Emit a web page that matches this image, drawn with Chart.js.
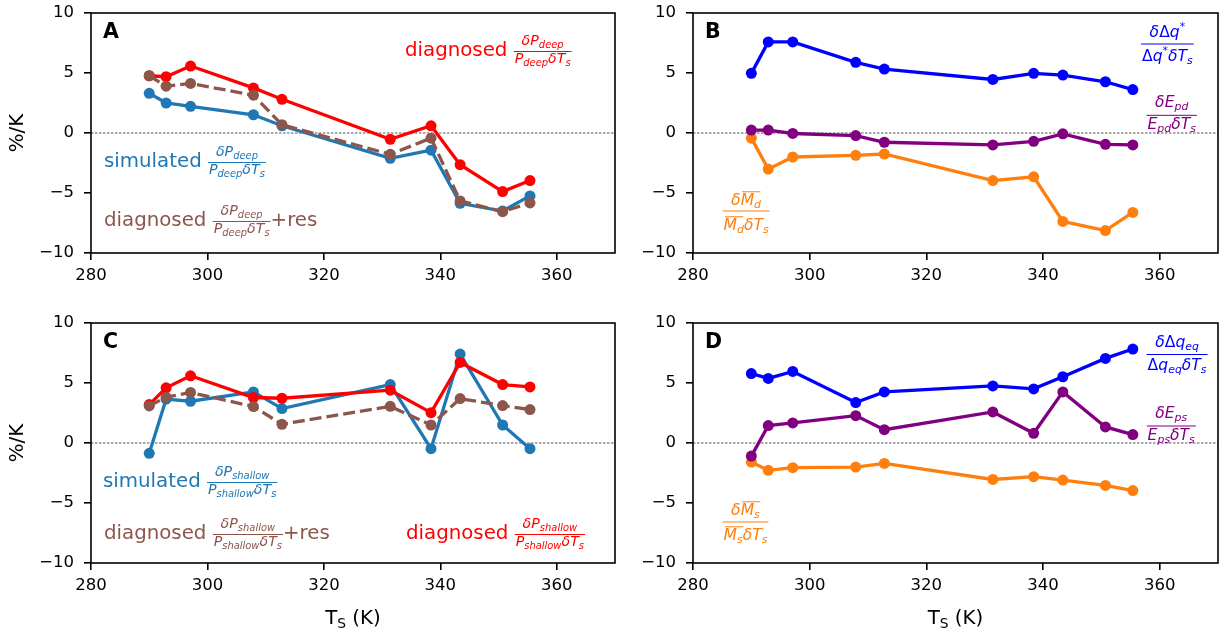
<!DOCTYPE html>
<html lang="en">
<head>
<meta charset="UTF-8">
<title>Deep and shallow precipitation sensitivity</title>
<script src="https://cdn.jsdelivr.net/npm/chart.js"></script>
<style>
  body { margin: 0; background: #fff; }
  .panel { position: absolute; }
</style>
</head>
<body>
<div class="panel" style="left:0;top:0;width:625px;height:300px"><canvas id="chartA"></canvas></div>
<div class="panel" style="left:630px;top:0;width:595px;height:300px"><canvas id="chartB"></canvas></div>
<div class="panel" style="left:0;top:310px;width:625px;height:323px"><canvas id="chartC"></canvas></div>
<div class="panel" style="left:630px;top:310px;width:595px;height:323px"><canvas id="chartD"></canvas></div>
<script>
// surface temperature of each simulation (K)
const tempK = [290, 292.9, 297.1, 307.9, 312.8, 331.4, 338.4, 343.4, 350.7, 355.4];

// A: deep precipitation
const deepSimulated    = [3.31, 2.50, 2.22, 1.52, 0.60, -2.11, -1.43, -5.86, -6.50, -5.24];
const deepDiagnosed    = [4.77, 4.69, 5.58, 3.76, 2.81, -0.52, 0.60, -2.64, -4.88, -3.96];
const deepDiagnosedRes = [4.77, 3.90, 4.13, 3.15, 0.69, -1.78, -0.43, -5.66, -6.56, -5.83];
// B: deep terms
const deepDq  = [4.97, 7.59, 7.59, 5.89, 5.33, 4.46, 4.97, 4.83, 4.27, 3.62];
const deepEpd = [0.24, 0.24, -0.04, -0.21, -0.77, -0.99, -0.69, -0.07, -0.94, -0.99];
const deepMd  = [-0.43, -3.01, -2.00, -1.86, -1.75, -3.96, -3.65, -7.37, -8.13, -6.62];
// C: shallow precipitation
const shallowSimulated    = [-0.86, 3.65, 3.48, 4.26, 2.87, 4.87, -0.47, 7.41, 1.50, -0.47];
const shallowDiagnosed    = [3.20, 4.60, 5.60, 3.79, 3.73, 4.40, 2.53, 6.71, 4.87, 4.67];
const shallowDiagnosedRes = [3.09, 3.82, 4.21, 3.04, 1.56, 3.06, 1.50, 3.70, 3.12, 2.79];
// D: shallow terms
const shallowDqEq = [5.79, 5.38, 5.96, 3.37, 4.26, 4.76, 4.51, 5.52, 7.05, 7.83];
const shallowEps  = [-1.09, 1.45, 1.67, 2.28, 1.11, 2.59, 0.81, 4.26, 1.34, 0.70];
const shallowMs   = [-1.59, -2.28, -2.06, -2.01, -1.70, -3.04, -2.81, -3.09, -3.54, -3.96];

const xTicks = [280, 300, 320, 340, 360];
const yTicks = [-10, -5, 0, 5, 10];

const FONT = "'DejaVu Sans'";
const TEXT_SIZE = 19.8;
const TAB_BLUE = '#1f77b4', RED = '#ff0000', BROWN = '#8c564b';
const BLUE = '#0000ff', PURPLE = '#800080', ORANGE = '#ff7f0e';

// math pieces: [text, style]  i = italic, r = roman, s* = subscript, p* = superscript, oi = overlined italic
const deepNum = [['δ','i'],['P','i'],['deep','si']];
const deepDen = [['P','i'],['deep','si'],['δ','i'],['T','i'],['s','si']];
const shalNum = [['δ','i'],['P','i'],['shallow','si']];
const shalDen = [['P','i'],['shallow','si'],['δ','i'],['T','i'],['s','si']];

const panels = {
  chartA: {
    letter: 'A', xTitle: false, yTitle: true,
    lines: [
      {data: deepDiagnosedRes, color: BROWN, dash: [12, 5]},
      {data: deepDiagnosed, color: RED},
      {data: deepSimulated, color: TAB_BLUE}
    ],
    texts: [
      {x: 314, y: 43, color: RED, seq: ['diagnosed ', {num: deepNum, den: deepDen}]},
      {x: 13, y: 154, color: TAB_BLUE, seq: ['simulated ', {num: deepNum, den: deepDen}]},
      {x: 13, y: 213, color: BROWN, seq: ['diagnosed ', {num: deepNum, den: deepDen}, '+res']}
    ],
    fracs: []
  },
  chartB: {
    letter: 'B', xTitle: false, yTitle: false,
    lines: [
      {data: deepDq, color: BLUE},
      {data: deepEpd, color: PURPLE},
      {data: deepMd, color: ORANGE}
    ],
    texts: [],
    fracs: [
      {x: 448, bar: 31, color: BLUE, numDy: -7, denDy: 17,
       num: [['δ','i'],['Δ','r'],['q','i'],['*','pr']],
       den: [['Δ','r'],['q','i'],['*','pr'],['δ','i'],['T','i'],['s','si']]},
      {x: 453.5, bar: 102.3, color: PURPLE, numDy: -8, denDy: 14,
       num: [['δ','i'],['E','i'],['pd','si']],
       den: [['E','i'],['pd','si'],['δ','i'],['T','i'],['s','si']]},
      {x: 29.5, bar: 198, color: ORANGE, numDy: -6, denDy: 19,
       num: [['δ','i'],['M','oi'],['d','si']],
       den: [['M','oi'],['d','si'],['δ','i'],['T','i'],['s','si']]}
    ]
  },
  chartC: {
    letter: 'C', xTitle: true, yTitle: true,
    lines: [
      {data: shallowDiagnosedRes, color: BROWN, dash: [12, 5]},
      {data: shallowDiagnosed, color: RED},
      {data: shallowSimulated, color: TAB_BLUE}
    ],
    texts: [
      {x: 12, y: 164, color: TAB_BLUE, seq: ['simulated ', {num: shalNum, den: shalDen}]},
      {x: 13, y: 216, color: BROWN, seq: ['diagnosed ', {num: shalNum, den: shalDen}, '+res']},
      {x: 315, y: 216, color: RED, seq: ['diagnosed ', {num: shalNum, den: shalDen}]}
    ],
    fracs: []
  },
  chartD: {
    letter: 'D', xTitle: true, yTitle: false,
    lines: [
      {data: shallowDqEq, color: BLUE},
      {data: shallowEps, color: PURPLE},
      {data: shallowMs, color: ORANGE}
    ],
    texts: [],
    fracs: [
      {x: 453.6, bar: 31.5, color: BLUE, numDy: -8, denDy: 15,
       num: [['δ','i'],['Δ','r'],['q','i'],['eq','si']],
       den: [['Δ','r'],['q','i'],['eq','si'],['δ','i'],['T','i'],['s','si']]},
      {x: 453.6, bar: 103, color: PURPLE, numDy: -8, denDy: 14,
       num: [['δ','i'],['E','i'],['ps','si']],
       den: [['E','i'],['ps','si'],['δ','i'],['T','i'],['s','si']]},
      {x: 29.5, bar: 199, color: ORANGE, numDy: -7, denDy: 18,
       num: [['δ','i'],['M','oi'],['s','si']],
       den: [['M','oi'],['s','si'],['δ','i'],['T','i'],['s','si']]}
    ]
  }
};

// draws (or only measures) a run of math pieces, returns its width
function drawMath(ctx, parts, x, y, s, draw) {
  let cx = x;
  for (const [t, st] of parts) {
    const small = st[0] === 's' || st[0] === 'p';
    const size = small ? s * 0.7 : s;
    ctx.font = (st.includes('i') ? 'italic ' : '') + size + 'px ' + FONT;
    const w = ctx.measureText(t).width;
    let dy = 0;
    if (st[0] === 's') dy = 0.2 * s;
    if (st[0] === 'p') dy = -0.42 * s;
    if (draw) {
      ctx.fillText(t, cx, y + dy);
      if (st[0] === 'o') {
        ctx.fillRect(cx + 0.1 * s, y - 0.88 * s, w + 0.3 * s, 1);
      }
    }
    cx += w;
  }
  return cx - x;
}

function drawFrac(ctx, f, x, bar, s) {
  const nw = drawMath(ctx, f.num, 0, 0, s, false);
  const dw = drawMath(ctx, f.den, 0, 0, s, false);
  const w = Math.max(nw, dw) + 2;
  ctx.fillRect(x, bar - 0.5, w, 1);
  drawMath(ctx, f.num, x + (w - nw) / 2, bar + f.numDy, s, true);
  drawMath(ctx, f.den, x + (w - dw) / 2, bar + f.denDy, s, true);
  return w;
}

const panelDecor = {
  id: 'panelDecor',
  beforeDatasetsDraw(chart) {
    const {ctx, chartArea: a, scales} = chart;
    const y0 = scales.y.getPixelForValue(0);
    ctx.save();
    ctx.strokeStyle = '#444';
    ctx.lineWidth = 0.9;
    ctx.setLineDash([2.5, 1.5]);
    ctx.beginPath();
    ctx.moveTo(a.left, y0);
    ctx.lineTo(a.right, y0);
    ctx.stroke();
    ctx.restore();
  },
  afterDraw(chart) {
    const p = panels[chart.canvas.id];
    const {ctx, chartArea: a} = chart;
    ctx.save();
    ctx.strokeStyle = '#000';
    ctx.lineWidth = 1.6;
    ctx.strokeRect(a.left, a.top, a.right - a.left, a.bottom - a.top);

    ctx.fillStyle = '#000';
    ctx.textBaseline = 'alphabetic';
    ctx.textAlign = 'left';
    ctx.font = 'bold 20.5px ' + FONT;
    ctx.fillText(p.letter, a.left + 12, a.top + 25);

    for (const t of p.texts) {
      ctx.fillStyle = t.color;
      let x = a.left + t.x;
      const y = a.top + t.y;
      for (const piece of t.seq) {
        if (typeof piece === 'string') {
          ctx.font = TEXT_SIZE + 'px ' + FONT;
          ctx.fillText(piece, x, y);
          x += ctx.measureText(piece).width;
        } else {
          x += drawFrac(ctx, {num: piece.num, den: piece.den, numDy: -6.5, denDy: 11.5}, x, y - 4.5, 14.2);
        }
      }
    }
    for (const f of p.fracs) {
      ctx.fillStyle = f.color;
      drawFrac(ctx, f, a.left + f.x, a.top + f.bar, 15.6);
    }

    if (p.xTitle) {
      ctx.fillStyle = '#000';
      const base = a.bottom + 61;
      ctx.font = TEXT_SIZE + 'px ' + FONT;
      const wT = ctx.measureText('T').width;
      const wK = ctx.measureText(' (K)').width;
      ctx.font = '13.8px ' + FONT;
      const wS = ctx.measureText('S').width;
      let x = (a.left + a.right) / 2 - (wT + wS + wK) / 2;
      ctx.font = TEXT_SIZE + 'px ' + FONT;
      ctx.fillText('T', x, base);
      ctx.font = '13.8px ' + FONT;
      ctx.fillText('S', x + wT, base + 3.5);
      ctx.font = TEXT_SIZE + 'px ' + FONT;
      ctx.fillText(' (K)', x + wT + wS, base);
    }
    ctx.restore();
  }
};

function makePanel(id, yWidth, xHeight, padRight) {
  const p = panels[id];
  const datasets = p.lines.map((l, i) => ({
    data: tempK.map((t, k) => ({x: t, y: l.data[k]})),
    borderColor: l.color,
    backgroundColor: l.color,
    pointBackgroundColor: l.color,
    borderWidth: 3.3,
    borderDash: l.dash || [],
    pointRadius: 5.5,
    pointHoverRadius: 5.5,
    pointBorderWidth: 0,
    tension: 0,
    order: i
  }));
  new Chart(document.getElementById(id), {
    type: 'line',
    data: {datasets: datasets},
    options: {
      responsive: true,
      maintainAspectRatio: false,
      animation: false,
      events: [],
      layout: {padding: {left: 0, right: padRight, top: 13, bottom: 0}},
      plugins: {legend: {display: false}, tooltip: {enabled: false}},
      scales: {
        x: {
          type: 'linear', min: 280, max: 370,
          afterBuildTicks: s => { s.ticks = xTicks.map(v => ({value: v})); },
          afterFit: s => { s.height = xHeight; s.paddingLeft = 0; s.paddingRight = 0; },
          border: {display: false},
          grid: {drawOnChartArea: false, color: '#000', lineWidth: 1.6, tickLength: 7},
          ticks: {color: '#000', font: {family: FONT, size: 16.5}, padding: 6, maxRotation: 0}
        },
        y: {
          type: 'linear', min: -10, max: 10,
          afterBuildTicks: s => { s.ticks = yTicks.map(v => ({value: v})); },
          afterFit: s => { s.width = yWidth; s.paddingTop = 0; s.paddingBottom = 0; },
          border: {display: false},
          grid: {drawOnChartArea: false, color: '#000', lineWidth: 1.6, tickLength: 7},
          ticks: {
            color: '#000', font: {family: FONT, size: 16.5}, padding: 10,
            callback: v => v < 0 ? '\u2212' + Math.abs(v) : String(v)
          },
          title: {
            display: p.yTitle, text: '%/K', color: '#000',
            font: {family: FONT, size: TEXT_SIZE}, padding: {top: 5.5, bottom: 0}
          }
        }
      }
    },
    plugins: [panelDecor]
  });
}

makePanel('chartA', 91, 47, 10);
makePanel('chartB', 63, 47, 7);
makePanel('chartC', 91, 70, 10);
makePanel('chartD', 63, 70, 7);
</script>
</body>
</html>
